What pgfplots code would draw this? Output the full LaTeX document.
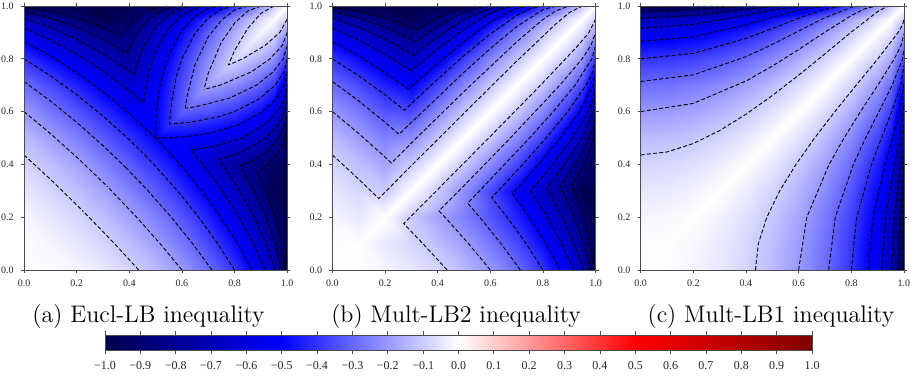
\documentclass[border=0pt]{standalone}
\usepackage{fontspec}
\usepackage{pgfplots}
\usepackage{pgfplotstable}
\pgfplotsset{compat=1.18}
\newfontfamily\tfont{Liberation Serif}
\pgfplotstableset{create on use/zero/.style={create col/set={0}}}
\pgfplotsset{
  colormap={seismic}{rgb=(0,0,0.3) rgb=(0,0,1) rgb=(1,1,1) rgb=(1,0,0) rgb=(0.5,0,0)},
  panel/.style={
    view={0}{90}, scale only axis, scale mode=stretch to fill,
    width=131.6pt, height=132pt, anchor=south west,
    xmin=0, xmax=1, ymin=0, ymax=1, zmin=-1, zmax=0, enlargelimits=false,
    colormap name=seismic, point meta min=-1, point meta max=1,
    xtick={0,0.2,0.4,0.6,0.8,1}, ytick={0,0.2,0.4,0.6,0.8,1}, ztick=\empty,
    xticklabels={0.0,0.2,0.4,0.6,0.8,1.0}, yticklabels={0.0,0.2,0.4,0.6,0.8,1.0},
    tick align=outside, major tick length=1.6pt,
    ticklabel style={font=\tfont\fontsize{5}{6}\selectfont, text=black!85},
    axis line style={black!70, line width=0.4pt},
    tick style={black!70, line width=0.4pt},
    axis on top,
  },
  field/.style={surf, shader=interp, mesh/cols=12, point meta=z},
  diag/.style={patch, patch type=triangle, shader=interp, point meta=z},
  cont/.style={black, line width=0.45pt, dash pattern=on 2pt off 1.1pt, unbounded coords=jump},
}

% contour lines (half above the diagonal; the other half is the mirror image)
\pgfplotstableread{
x y
0 0.4359
0.1 0.3437
0.2 0.2471
0.2236 0.2236
nan nan
0 0.6
0.1 0.517
0.2 0.4279
0.3 0.3324
0.3162 0.3162
nan nan
0 0.7141
0.1 0.6405
0.2 0.5596
0.3 0.4713
0.3745 0.4
0.3873 0.3873
nan nan
0 0.8
0.1 0.736
0.2 0.6638
0.3 0.5832
0.4 0.4932
0.4472 0.4472
nan nan
0 0.866
0.1 0.8118
0.2 0.7484
0.3 0.676
0.4 0.5937
0.5 0.5
nan nan
0.95 1
0.9 0.972
0.85 0.915
0.8 0.831
0.7764 0.7764
nan nan
0.9 1
0.85 0.981
0.8 0.935
0.75 0.863
0.7 0.745
0.6838 0.6838
nan nan
0.85 1
0.8 0.985
0.75 0.946
0.7 0.883
0.65 0.778
0.62 0.66
0.6127 0.6127
nan nan
0.8 1
0.75 0.988
0.7 0.954
0.65 0.897
0.6 0.8
0.58 0.737
0.56 0.633
0.5528 0.5528
nan nan
0.75 1
0.7 0.99
0.65 0.96
0.6 0.907
0.55 0.816
0.52 0.716
0.505 0.615
0.501 0.553
0.5 0.5
nan nan
0 0.9165
0.1 0.8717
0.2 0.818
0.3 0.7542
0.4 0.6799
0.455 0.634
0.46 0.674
0.47 0.7305
0.5 0.8275
0.55 0.914
0.6 0.963
0.65 0.991
0.7 1
nan nan
0 0.9539
0.1 0.9193
0.2 0.8748
0.3 0.82
0.4 0.7542
0.42 0.74
0.43 0.78
0.45 0.836
0.5 0.92
0.55 0.966
0.6 0.9915
0.65 1
nan nan
0 0.9798
0.1 0.955
0.2 0.9202
0.3 0.8748
0.3925 0.8225
0.42 0.881
0.45 0.924
0.5 0.968
0.55 0.992
0.6 1
nan nan
0 0.995
0.1 0.9801
0.2 0.955
0.3 0.9193
0.371 0.888
0.4 0.927
0.45 0.97
0.5 0.993
0.55 1
}\contA

\pgfplotstableread{
x y
0 0.4359
0.1 0.3437
0.176 0.271
0.2 0.295
0.3 0.395
0.5 0.594
0.7 0.791
0.85 0.933
0.9 0.975
0.95 1
nan nan
0 0.6
0.1 0.517
0.2 0.4279
0.224 0.405
0.3 0.481
0.5 0.676
0.7 0.864
0.8 0.949
0.85 0.982
0.9 1
nan nan
0 0.7141
0.1 0.6405
0.2 0.5596
0.253 0.514
0.3 0.559
0.5 0.749
0.6 0.839
0.7 0.922
0.8 0.986
0.85 1
nan nan
0 0.8
0.1 0.736
0.2 0.6638
0.274 0.605
0.3 0.63
0.4 0.723
0.5 0.812
0.6 0.894
0.7 0.964
0.75 0.989
0.8 1
nan nan
0 0.866
0.1 0.8118
0.2 0.7484
0.289 0.685
0.3 0.695
0.4 0.783
0.5 0.866
0.6 0.939
0.7 0.991
0.75 1
nan nan
0 0.9165
0.1 0.8717
0.2 0.818
0.3006 0.754
0.35 0.796
0.4 0.837
0.5 0.912
0.6 0.972
0.65 0.992
0.7 1
nan nan
0 0.9539
0.1 0.9193
0.2 0.8748
0.3 0.82
0.3098 0.8144
0.35 0.846
0.4 0.883
0.5 0.9485
0.6 0.992
0.65 1
nan nan
0 0.9798
0.1 0.955
0.2 0.9202
0.3 0.8748
0.3169 0.8658
0.4 0.923
0.5 0.976
0.55 0.993
0.6 1
nan nan
0 0.995
0.1 0.9801
0.2 0.955
0.3 0.9193
0.3227 0.91
0.4 0.955
0.45 0.9775
0.5 0.994
0.55 1
}\contB

\pgfplotstableread{
x y
0 0.4359
0.1 0.4471
0.2 0.4791
0.3 0.5282
0.4 0.59
0.5 0.6608
0.6 0.7378
0.7 0.8188
0.8 0.9012
0.9 0.9785
0.93 0.9954
0.9487 1
nan nan
0 0.6
0.2 0.6311
0.4 0.7158
0.5 0.7724
0.6 0.8352
0.7 0.9009
0.8 0.9638
0.85 0.9891
0.8944 1
nan nan
0 0.7141
0.2 0.7391
0.4 0.808
0.5 0.8544
0.6 0.9052
0.7 0.9556
0.8 0.995
0.8367 1
nan nan
0 0.8
0.2 0.8206
0.4 0.8772
0.5 0.9147
0.6 0.9539
0.7 0.9881
0.7746 1
nan nan
0 0.866
0.2 0.8829
0.4 0.9286
0.5 0.9574
0.6 0.9846
0.7071 1
nan nan
0 0.9165
0.2 0.9301
0.4 0.965
0.5 0.9849
0.6325 1
nan nan
0 0.9539
0.2 0.9641
0.4 0.9883
0.5477 1
nan nan
0 0.9798
0.2 0.9866
0.3 0.9933
0.4472 1
nan nan
0 0.995
0.1 0.9959
0.2 0.9981
0.3162 1
}\contC

\begin{document}
\begin{tikzpicture}
\path[use as bounding box] (0,0) rectangle (457.5pt,187.5pt);

% ---------------- (a) ----------------
\begin{axis}[panel, at={(12pt,52.5pt)}]
\addplot3[field] coordinates {
(0,0,0) (0.1,0,-0.005) (0.2,0,-0.0202) (0.3,0,-0.0461) (0.4,0,-0.0835) (0.5,0,-0.134) (0.6,0,-0.2) (0.7,0,-0.2859) (0.8,0,-0.4) (0.9,0,-0.5641) (0.95,0,-0.6878) (1,0,-1)
(0,0.1,-0.005) (0.1,0.1,-0.02) (0.2,0.1,-0.0451) (0.3,0.1,-0.0808) (0.4,0.1,-0.1281) (0.5,0.1,-0.1883) (0.6,0.1,-0.264) (0.7,0.1,-0.3594) (0.8,0.1,-0.483) (0.9,0.1,-0.6563) (0.95,0.1,-0.7843) (1,0.1,-1)
(0,0.2,-0.0202) (0.1,0.2,-0.0451) (0.2,0.2,-0.08) (0.3,0.2,-0.1253) (0.4,0.2,-0.182) (0.5,0.2,-0.2515) (0.6,0.2,-0.3362) (0.7,0.2,-0.4403) (0.8,0.2,-0.5721) (0.9,0.2,-0.7529) (0.95,0.2,-0.8841) (1,0.2,-1)
(0,0.3,-0.0461) (0.1,0.3,-0.0808) (0.2,0.3,-0.1253) (0.3,0.3,-0.18) (0.4,0.3,-0.2457) (0.5,0.3,-0.3239) (0.6,0.3,-0.4169) (0.7,0.3,-0.5288) (0.8,0.3,-0.6676) (0.9,0.3,-0.8542) (0.95,0.3,-0.9871) (1,0.3,-1)
(0,0.4,-0.0835) (0.1,0.4,-0.1281) (0.2,0.4,-0.182) (0.3,0.4,-0.2457) (0.4,0.4,-0.32) (0.5,0.4,-0.4063) (0.6,0.4,-0.5068) (0.7,0.4,-0.6255) (0.8,0.4,-0.7701) (0.9,0.4,-0.8605) (0.95,0.4,-0.9438) (1,0.4,-1)
(0,0.5,-0.134) (0.1,0.5,-0.1883) (0.2,0.5,-0.2515) (0.3,0.5,-0.3239) (0.4,0.5,-0.4063) (0.5,0.5,-0.5) (0.6,0.5,-0.5072) (0.7,0.5,-0.5315) (0.8,0.5,-0.5804) (0.9,0.5,-0.6725) (0.95,0.5,-0.7546) (1,0.5,-1)
(0,0.6,-0.2) (0.1,0.6,-0.264) (0.2,0.6,-0.3362) (0.3,0.6,-0.4169) (0.4,0.6,-0.5068) (0.5,0.6,-0.5072) (0.6,0.6,-0.32) (0.7,0.6,-0.3487) (0.8,0.6,-0.4) (0.9,0.6,-0.4913) (0.95,0.6,-0.5702) (1,0.6,-0.8)
(0,0.7,-0.2859) (0.1,0.7,-0.3594) (0.2,0.7,-0.4403) (0.3,0.7,-0.5288) (0.4,0.7,-0.6255) (0.5,0.7,-0.5315) (0.6,0.7,-0.3487) (0.7,0.7,-0.18) (0.8,0.7,-0.2315) (0.9,0.7,-0.3187) (0.95,0.7,-0.392) (1,0.7,-0.6)
(0,0.8,-0.4) (0.1,0.8,-0.483) (0.2,0.8,-0.5721) (0.3,0.8,-0.6676) (0.4,0.8,-0.7701) (0.5,0.8,-0.5804) (0.6,0.8,-0.4) (0.7,0.8,-0.2315) (0.8,0.8,-0.08) (0.9,0.8,-0.1585) (0.95,0.8,-0.2227) (1,0.8,-0.4)
(0,0.9,-0.5641) (0.1,0.9,-0.6563) (0.2,0.9,-0.7529) (0.3,0.9,-0.8542) (0.4,0.9,-0.8605) (0.5,0.9,-0.6725) (0.6,0.9,-0.4913) (0.7,0.9,-0.3187) (0.8,0.9,-0.1585) (0.9,0.9,-0.02) (0.95,0.9,-0.0689) (1,0.9,-0.2)
(0,0.95,-0.6878) (0.1,0.95,-0.7843) (0.2,0.95,-0.8841) (0.3,0.95,-0.9871) (0.4,0.95,-0.9438) (0.5,0.95,-0.7546) (0.6,0.95,-0.5702) (0.7,0.95,-0.392) (0.8,0.95,-0.2227) (0.9,0.95,-0.0689) (0.95,0.95,-0.005) (1,0.95,-0.1)
(0,1,-1) (0.1,1,-1) (0.2,1,-1) (0.3,1,-1) (0.4,1,-1) (0.5,1,-1) (0.6,1,-0.8) (0.7,1,-0.6) (0.8,1,-0.4) (0.9,1,-0.2) (0.95,1,-0.1) (1,1,0)
};
\addplot3[diag] coordinates {
(0,0,0) (0.1,0,-0.005) (0.1,0.1,-0.02) (0,0,0) (0,0.1,-0.005) (0.1,0.1,-0.02)
(0.1,0.1,-0.02) (0.2,0.1,-0.0451) (0.2,0.2,-0.08) (0.1,0.1,-0.02) (0.1,0.2,-0.0451) (0.2,0.2,-0.08)
(0.2,0.2,-0.08) (0.3,0.2,-0.1253) (0.3,0.3,-0.18) (0.2,0.2,-0.08) (0.2,0.3,-0.1253) (0.3,0.3,-0.18)
(0.3,0.3,-0.18) (0.4,0.3,-0.2457) (0.4,0.4,-0.32) (0.3,0.3,-0.18) (0.3,0.4,-0.2457) (0.4,0.4,-0.32)
(0.4,0.4,-0.32) (0.5,0.4,-0.4063) (0.5,0.5,-0.5) (0.4,0.4,-0.32) (0.4,0.5,-0.4063) (0.5,0.5,-0.5)
(0.5,0.5,-0.5) (0.6,0.5,-0.5072) (0.6,0.6,-0.32) (0.5,0.5,-0.5) (0.5,0.6,-0.5072) (0.6,0.6,-0.32)
(0.6,0.6,-0.32) (0.7,0.6,-0.3487) (0.7,0.7,-0.18) (0.6,0.6,-0.32) (0.6,0.7,-0.3487) (0.7,0.7,-0.18)
(0.7,0.7,-0.18) (0.8,0.7,-0.2315) (0.8,0.8,-0.08) (0.7,0.7,-0.18) (0.7,0.8,-0.2315) (0.8,0.8,-0.08)
(0.8,0.8,-0.08) (0.9,0.8,-0.1585) (0.9,0.9,-0.02) (0.8,0.8,-0.08) (0.8,0.9,-0.1585) (0.9,0.9,-0.02)
(0.9,0.9,-0.02) (0.95,0.9,-0.0689) (0.95,0.95,-0.005) (0.9,0.9,-0.02) (0.9,0.95,-0.0689) (0.95,0.95,-0.005)
(0.95,0.95,-0.005) (1,0.95,-0.1) (1,1,0) (0.95,0.95,-0.005) (0.95,1,-0.1) (1,1,0)
};
\addplot3[cont] table[x=x, y=y, z=zero] {\contA};
\addplot3[cont] table[x=y, y=x, z=zero] {\contA};
\end{axis}

% ---------------- (b) ----------------
\begin{axis}[panel, at={(166.2pt,52.5pt)}]
\addplot3[field] coordinates {
(0,0,0) (0.1,0,-0.005) (0.2,0,-0.0202) (0.3,0,-0.0461) (0.4,0,-0.0835) (0.5,0,-0.134) (0.6,0,-0.2) (0.7,0,-0.2859) (0.8,0,-0.4) (0.9,0,-0.5641) (0.95,0,-0.6878) (1,0,-1)
(0,0.1,-0.005) (0.1,0.1,0) (0.2,0.1,-0.0451) (0.3,0.1,-0.0808) (0.4,0.1,-0.1281) (0.5,0.1,-0.1883) (0.6,0.1,-0.264) (0.7,0.1,-0.3594) (0.8,0.1,-0.483) (0.9,0.1,-0.6563) (0.95,0.1,-0.7843) (1,0.1,-1)
(0,0.2,-0.0202) (0.1,0.2,-0.0451) (0.2,0.2,0) (0.3,0.2,-0.1053) (0.4,0.2,-0.182) (0.5,0.2,-0.2515) (0.6,0.2,-0.3362) (0.7,0.2,-0.4403) (0.8,0.2,-0.5721) (0.9,0.2,-0.7529) (0.95,0.2,-0.8841) (1,0.2,-1)
(0,0.3,-0.0461) (0.1,0.3,-0.0808) (0.2,0.3,-0.1053) (0.3,0.3,0) (0.4,0.3,-0.1057) (0.5,0.3,-0.2239) (0.6,0.3,-0.3569) (0.7,0.3,-0.5088) (0.8,0.3,-0.6676) (0.9,0.3,-0.8542) (0.95,0.3,-0.9871) (1,0.3,-1)
(0,0.4,-0.0835) (0.1,0.4,-0.1281) (0.2,0.4,-0.182) (0.3,0.4,-0.1057) (0.4,0.4,0) (0.5,0.4,-0.1063) (0.6,0.4,-0.2268) (0.7,0.4,-0.3655) (0.8,0.4,-0.5301) (0.9,0.4,-0.7405) (0.95,0.4,-0.8838) (1,0.4,-1)
(0,0.5,-0.134) (0.1,0.5,-0.1883) (0.2,0.5,-0.2515) (0.3,0.5,-0.2239) (0.4,0.5,-0.1063) (0.5,0.5,0) (0.6,0.5,-0.1072) (0.7,0.5,-0.2315) (0.8,0.5,-0.3804) (0.9,0.5,-0.5725) (0.95,0.5,-0.7046) (1,0.5,-1)
(0,0.6,-0.2) (0.1,0.6,-0.264) (0.2,0.6,-0.3362) (0.3,0.6,-0.3569) (0.4,0.6,-0.2268) (0.5,0.6,-0.1072) (0.6,0.6,0) (0.7,0.6,-0.1087) (0.8,0.6,-0.24) (0.9,0.6,-0.4113) (0.95,0.6,-0.5302) (1,0.6,-0.8)
(0,0.7,-0.2859) (0.1,0.7,-0.3594) (0.2,0.7,-0.4403) (0.3,0.7,-0.5088) (0.4,0.7,-0.3655) (0.5,0.7,-0.2315) (0.6,0.7,-0.1087) (0.7,0.7,0) (0.8,0.7,-0.1115) (0.9,0.7,-0.2587) (0.95,0.7,-0.362) (1,0.7,-0.6)
(0,0.8,-0.4) (0.1,0.8,-0.483) (0.2,0.8,-0.5721) (0.3,0.8,-0.6676) (0.4,0.8,-0.5301) (0.5,0.8,-0.3804) (0.6,0.8,-0.24) (0.7,0.8,-0.1115) (0.8,0.8,0) (0.9,0.8,-0.1185) (0.95,0.8,-0.2027) (1,0.8,-0.4)
(0,0.9,-0.5641) (0.1,0.9,-0.6563) (0.2,0.9,-0.7529) (0.3,0.9,-0.8542) (0.4,0.9,-0.7405) (0.5,0.9,-0.5725) (0.6,0.9,-0.4113) (0.7,0.9,-0.2587) (0.8,0.9,-0.1185) (0.9,0.9,0) (0.95,0.9,-0.0589) (1,0.9,-0.2)
(0,0.95,-0.6878) (0.1,0.95,-0.7843) (0.2,0.95,-0.8841) (0.3,0.95,-0.9871) (0.4,0.95,-0.8838) (0.5,0.95,-0.7046) (0.6,0.95,-0.5302) (0.7,0.95,-0.362) (0.8,0.95,-0.2027) (0.9,0.95,-0.0589) (0.95,0.95,0) (1,0.95,-0.1)
(0,1,-1) (0.1,1,-1) (0.2,1,-1) (0.3,1,-1) (0.4,1,-1) (0.5,1,-1) (0.6,1,-0.8) (0.7,1,-0.6) (0.8,1,-0.4) (0.9,1,-0.2) (0.95,1,-0.1) (1,1,0)
};
\addplot3[diag] coordinates {
(0,0,0) (0.1,0,-0.005) (0.1,0.1,0) (0,0,0) (0,0.1,-0.005) (0.1,0.1,0)
(0.1,0.1,0) (0.2,0.1,-0.0451) (0.2,0.2,0) (0.1,0.1,0) (0.1,0.2,-0.0451) (0.2,0.2,0)
(0.2,0.2,0) (0.3,0.2,-0.1053) (0.3,0.3,0) (0.2,0.2,0) (0.2,0.3,-0.1053) (0.3,0.3,0)
(0.3,0.3,0) (0.4,0.3,-0.1057) (0.4,0.4,0) (0.3,0.3,0) (0.3,0.4,-0.1057) (0.4,0.4,0)
(0.4,0.4,0) (0.5,0.4,-0.1063) (0.5,0.5,0) (0.4,0.4,0) (0.4,0.5,-0.1063) (0.5,0.5,0)
(0.5,0.5,0) (0.6,0.5,-0.1072) (0.6,0.6,0) (0.5,0.5,0) (0.5,0.6,-0.1072) (0.6,0.6,0)
(0.6,0.6,0) (0.7,0.6,-0.1087) (0.7,0.7,0) (0.6,0.6,0) (0.6,0.7,-0.1087) (0.7,0.7,0)
(0.7,0.7,0) (0.8,0.7,-0.1115) (0.8,0.8,0) (0.7,0.7,0) (0.7,0.8,-0.1115) (0.8,0.8,0)
(0.8,0.8,0) (0.9,0.8,-0.1185) (0.9,0.9,0) (0.8,0.8,0) (0.8,0.9,-0.1185) (0.9,0.9,0)
(0.9,0.9,0) (0.95,0.9,-0.0589) (0.95,0.95,0) (0.9,0.9,0) (0.9,0.95,-0.0589) (0.95,0.95,0)
(0.95,0.95,0) (1,0.95,-0.1) (1,1,0) (0.95,0.95,0) (0.95,1,-0.1) (1,1,0)
};
\addplot3[cont] table[x=x, y=y, z=zero] {\contB};
\addplot3[cont] table[x=y, y=x, z=zero] {\contB};
\end{axis}

% ---------------- (c) ----------------
\begin{axis}[panel, at={(320.35pt,52.5pt)}]
\addplot3[field] coordinates {
(0,0,0) (0.1,0,-0.005) (0.2,0,-0.0202) (0.3,0,-0.0461) (0.4,0,-0.0835) (0.5,0,-0.134) (0.6,0,-0.2) (0.7,0,-0.2859) (0.8,0,-0.4) (0.9,0,-0.5641) (0.95,0,-0.6878) (1,0,-1)
(0,0.1,-0.005) (0.1,0.1,0) (0.2,0.1,-0.0151) (0.3,0.1,-0.0408) (0.4,0.1,-0.0781) (0.5,0.1,-0.1283) (0.6,0.1,-0.194) (0.7,0.1,-0.2794) (0.8,0.1,-0.393) (0.9,0.1,-0.5563) (0.95,0.1,-0.6793) (1,0.1,-0.99)
(0,0.2,-0.0202) (0.1,0.2,-0.0151) (0.2,0.2,0) (0.3,0.2,-0.0253) (0.4,0.2,-0.062) (0.5,0.2,-0.1115) (0.6,0.2,-0.1762) (0.7,0.2,-0.2603) (0.8,0.2,-0.3721) (0.9,0.2,-0.5329) (0.95,0.2,-0.6541) (1,0.2,-0.96)
(0,0.3,-0.0461) (0.1,0.3,-0.0408) (0.2,0.3,-0.0253) (0.3,0.3,0) (0.4,0.3,-0.0357) (0.5,0.3,-0.0839) (0.6,0.3,-0.1469) (0.7,0.3,-0.2288) (0.8,0.3,-0.3376) (0.9,0.3,-0.4942) (0.95,0.3,-0.6121) (1,0.3,-0.91)
(0,0.4,-0.0835) (0.1,0.4,-0.0781) (0.2,0.4,-0.062) (0.3,0.4,-0.0357) (0.4,0.4,0) (0.5,0.4,-0.0463) (0.6,0.4,-0.1068) (0.7,0.4,-0.1855) (0.8,0.4,-0.2901) (0.9,0.4,-0.4405) (0.95,0.4,-0.5538) (1,0.4,-0.84)
(0,0.5,-0.134) (0.1,0.5,-0.1283) (0.2,0.5,-0.1115) (0.3,0.5,-0.0839) (0.4,0.5,-0.0463) (0.5,0.5,0) (0.6,0.5,-0.0572) (0.7,0.5,-0.1315) (0.8,0.5,-0.2304) (0.9,0.5,-0.3725) (0.95,0.5,-0.4796) (1,0.5,-0.75)
(0,0.6,-0.2) (0.1,0.6,-0.194) (0.2,0.6,-0.1762) (0.3,0.6,-0.1469) (0.4,0.6,-0.1068) (0.5,0.6,-0.0572) (0.6,0.6,0) (0.7,0.6,-0.0687) (0.8,0.6,-0.16) (0.9,0.6,-0.2913) (0.95,0.6,-0.3902) (1,0.6,-0.64)
(0,0.7,-0.2859) (0.1,0.7,-0.2794) (0.2,0.7,-0.2603) (0.3,0.7,-0.2288) (0.4,0.7,-0.1855) (0.5,0.7,-0.1315) (0.6,0.7,-0.0687) (0.7,0.7,0) (0.8,0.7,-0.0815) (0.9,0.7,-0.1987) (0.95,0.7,-0.287) (1,0.7,-0.51)
(0,0.8,-0.4) (0.1,0.8,-0.393) (0.2,0.8,-0.3721) (0.3,0.8,-0.3376) (0.4,0.8,-0.2901) (0.5,0.8,-0.2304) (0.6,0.8,-0.16) (0.7,0.8,-0.0815) (0.8,0.8,0) (0.9,0.8,-0.0985) (0.95,0.8,-0.1727) (1,0.8,-0.36)
(0,0.9,-0.5641) (0.1,0.9,-0.5563) (0.2,0.9,-0.5329) (0.3,0.9,-0.4942) (0.4,0.9,-0.4405) (0.5,0.9,-0.3725) (0.6,0.9,-0.2913) (0.7,0.9,-0.1987) (0.8,0.9,-0.0985) (0.9,0.9,0) (0.95,0.9,-0.0539) (1,0.9,-0.19)
(0,0.95,-0.6878) (0.1,0.95,-0.6793) (0.2,0.95,-0.6541) (0.3,0.95,-0.6121) (0.4,0.95,-0.5538) (0.5,0.95,-0.4796) (0.6,0.95,-0.3902) (0.7,0.95,-0.287) (0.8,0.95,-0.1727) (0.9,0.95,-0.0539) (0.95,0.95,0) (1,0.95,-0.0975)
(0,1,-1) (0.1,1,-0.99) (0.2,1,-0.96) (0.3,1,-0.91) (0.4,1,-0.84) (0.5,1,-0.75) (0.6,1,-0.64) (0.7,1,-0.51) (0.8,1,-0.36) (0.9,1,-0.19) (0.95,1,-0.0975) (1,1,0)
};
\addplot3[diag] coordinates {
(0,0,0) (0.1,0,-0.005) (0.1,0.1,0) (0,0,0) (0,0.1,-0.005) (0.1,0.1,0)
(0.1,0.1,0) (0.2,0.1,-0.0151) (0.2,0.2,0) (0.1,0.1,0) (0.1,0.2,-0.0151) (0.2,0.2,0)
(0.2,0.2,0) (0.3,0.2,-0.0253) (0.3,0.3,0) (0.2,0.2,0) (0.2,0.3,-0.0253) (0.3,0.3,0)
(0.3,0.3,0) (0.4,0.3,-0.0357) (0.4,0.4,0) (0.3,0.3,0) (0.3,0.4,-0.0357) (0.4,0.4,0)
(0.4,0.4,0) (0.5,0.4,-0.0463) (0.5,0.5,0) (0.4,0.4,0) (0.4,0.5,-0.0463) (0.5,0.5,0)
(0.5,0.5,0) (0.6,0.5,-0.0572) (0.6,0.6,0) (0.5,0.5,0) (0.5,0.6,-0.0572) (0.6,0.6,0)
(0.6,0.6,0) (0.7,0.6,-0.0687) (0.7,0.7,0) (0.6,0.6,0) (0.6,0.7,-0.0687) (0.7,0.7,0)
(0.7,0.7,0) (0.8,0.7,-0.0815) (0.8,0.8,0) (0.7,0.7,0) (0.7,0.8,-0.0815) (0.8,0.8,0)
(0.8,0.8,0) (0.9,0.8,-0.0985) (0.9,0.9,0) (0.8,0.8,0) (0.8,0.9,-0.0985) (0.9,0.9,0)
(0.9,0.9,0) (0.95,0.9,-0.0539) (0.95,0.95,0) (0.9,0.9,0) (0.9,0.95,-0.0539) (0.95,0.95,0)
(0.95,0.95,0) (1,0.95,-0.0975) (1,1,0) (0.95,0.95,0) (0.95,1,-0.0975) (1,1,0)
};
\addplot3[cont] table[x=x, y=y, z=zero] {\contC};
\addplot3[cont] table[x=y, y=x, z=zero] {\contC};
\end{axis}

% ---------------- colour bar ----------------
\begin{axis}[at={(52.5pt,12.5pt)}, anchor=south west,
  view={0}{90}, scale only axis, scale mode=stretch to fill,
  width=353.5pt, height=7.5pt,
  xmin=-1, xmax=1, ymin=0, ymax=1, enlargelimits=false,
  colormap name=seismic, point meta min=-1, point meta max=1,
  ytick=\empty, ztick=\empty,
  xtick={-1,-0.9,-0.8,-0.7,-0.6,-0.5,-0.4,-0.3,-0.2,-0.1,0,0.1,0.2,0.3,0.4,0.5,0.6,0.7,0.8,0.9,1},
  xticklabels={−1.0,−0.9,−0.8,−0.7,−0.6,−0.5,−0.4,−0.3,−0.2,−0.1,0.0,0.1,0.2,0.3,0.4,0.5,0.6,0.7,0.8,0.9,1.0},
  tick align=outside, major tick length=2.2pt,
  ticklabel style={font=\tfont\fontsize{6}{7}\selectfont, text=black!85},
  axis line style={black!70, line width=0.4pt},
  tick style={black!70, line width=0.4pt},
  axis on top]
\addplot3[surf, shader=interp, mesh/cols=21, point meta=z] coordinates {
(-1,0,-1) (-0.9,0,-0.9) (-0.8,0,-0.8) (-0.7,0,-0.7) (-0.6,0,-0.6) (-0.5,0,-0.5) (-0.4,0,-0.4) (-0.3,0,-0.3) (-0.2,0,-0.2) (-0.1,0,-0.1) (0,0,0) (0.1,0,0.1) (0.2,0,0.2) (0.3,0,0.3) (0.4,0,0.4) (0.5,0,0.5) (0.6,0,0.6) (0.7,0,0.7) (0.8,0,0.8) (0.9,0,0.9) (1,0,1)
(-1,1,-1) (-0.9,1,-0.9) (-0.8,1,-0.8) (-0.7,1,-0.7) (-0.6,1,-0.6) (-0.5,1,-0.5) (-0.4,1,-0.4) (-0.3,1,-0.3) (-0.2,1,-0.2) (-0.1,1,-0.1) (0,1,0) (0.1,1,0.1) (0.2,1,0.2) (0.3,1,0.3) (0.4,1,0.4) (0.5,1,0.5) (0.6,1,0.6) (0.7,1,0.7) (0.8,1,0.8) (0.9,1,0.9) (1,1,1)
};
\end{axis}

\node[anchor=base, font=\fontsize{12}{14}\selectfont] at (74.25pt,26pt) {(a) Eucl-LB inequality};
\node[anchor=base, font=\fontsize{12}{14}\selectfont] at (228pt,26pt) {(b) Mult-LB2 inequality};
\node[anchor=base, font=\fontsize{12}{14}\selectfont] at (385.5pt,26pt) {(c) Mult-LB1 inequality};
\end{tikzpicture}
\end{document}
